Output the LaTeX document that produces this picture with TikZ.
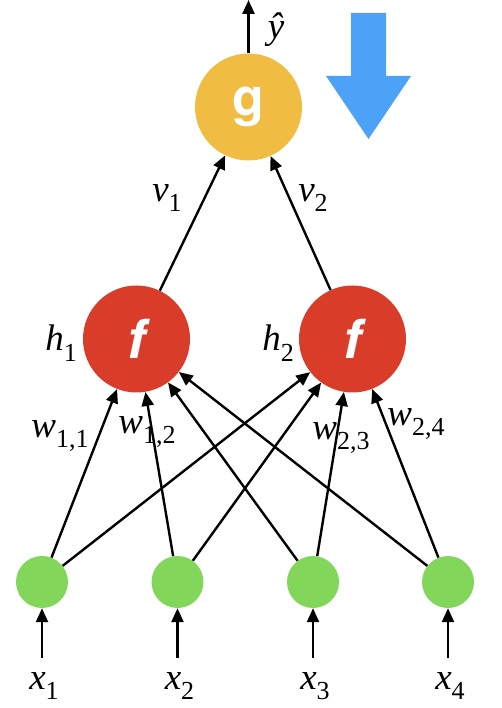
\documentclass[tikz,border=0pt]{standalone}
\usepackage{fontspec}
\setmainfont{Liberation Serif}
\newfontfamily\heros{TeX Gyre Heros}
\usetikzlibrary{arrows.meta}
\definecolor{gyellow}{HTML}{F0BC41}
\definecolor{fred}{HTML}{D93D2A}
\definecolor{igreen}{HTML}{82D65A}
\definecolor{bblue}{HTML}{4BA2F7}
\newcommand{\lab}[2]{{\itshape #1}\raisebox{-0.28em}{\fontsize{26}{30}\selectfont #2}}
\begin{document}
\begin{tikzpicture}[x=1pt,y=1pt,
  neuron/.style={circle,inner sep=0pt,draw=none},
  outnode/.style={neuron,fill=gyellow,minimum size=107pt,text=white,font=\heros\bfseries\fontsize{52}{60}\selectfont},
  hidnode/.style={neuron,fill=fred,minimum size=107pt,text=white,font=\heros\bfseries\itshape\fontsize{54}{60}\selectfont},
  innode/.style={neuron,fill=igreen,minimum size=52pt},
  edge/.style={line width=2.4pt,-{Triangle[length=14pt,width=12pt]}},
  lbl/.style={inner sep=0pt,font=\fontsize{37}{42}\selectfont}]
\useasboundingbox (0,0) rectangle (502,708);
\node[outnode] (g) at (248.5,601) {g};
\node[hidnode] (f1) at (136.5,369) {f};
\node[hidnode] (f2) at (352.5,369) {f};
\foreach \i/\x in {1/42,2/177.5,3/313,4/448}{
  \node[innode] (i\i) at (\x,126) {};
  \coordinate (s\i) at (\x,50);
  \node[lbl] (xl\i) at (\x+2,22) {\lab{x}{\i}};
  \draw[edge] (s\i) -- (i\i);
}
\foreach \i in {1,2,3,4}{
  \draw[edge] (i\i) -- (f1);
  \draw[edge] (i\i) -- (f2);
}
\draw[edge] (f1) -- (g);
\draw[edge] (f2) -- (g);
\coordinate (top) at (248.5,708);
\draw[edge] (g) -- (top);
\node[lbl] (yh) at (276,678) {\itshape ŷ};
\node[lbl] (h1) at (61,365) {\lab{h}{1}};
\node[lbl] (h2) at (278,365) {\lab{h}{2}};
\node[lbl] (v1) at (167,510) {\lab{v}{1}};
\node[lbl] (v2) at (313,510) {\lab{v}{2}};
\node[lbl] (w11) at (60,272) {\lab{w}{1,1}};
\node[lbl] (w12) at (147,276) {\lab{w}{1,2}};
\node[lbl] (w23) at (341,270) {\lab{w}{2,3}};
\node[lbl] (w24) at (416,284) {\lab{w}{2,4}};
\fill[bblue] (351,695) -- (386,695) -- (386,632) -- (411,632) -- (368.5,569) -- (326,632) -- (351,632) -- cycle;
\end{tikzpicture}
\end{document}
